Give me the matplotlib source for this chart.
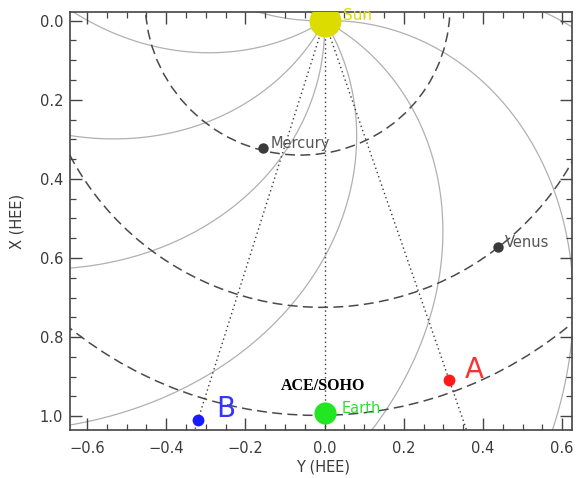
import numpy as np
import matplotlib
matplotlib.use("Agg")
import matplotlib.pyplot as plt
from matplotlib.patches import Ellipse
from matplotlib.ticker import MultipleLocator

# body positions in HEE (AU): Y across the plot, X toward Earth (down)
names = ["Sun", "Mercury", "Venus", "Earth", "A", "B"]
pos_y = [0.0, -0.155, 0.438, 0.0, 0.315, -0.320]
pos_x = [0.0, 0.322, 0.572, 0.992, 0.909, 1.010]

# planetary orbits: semi-major axis (AU), eccentricity, perihelion angle (deg, from +X toward +Y)
orbit_a = [0.387, 0.723, 1.000]
orbit_e = [0.2056, 0.0068, 0.0167]
orbit_peri = [59.0, 113.0, 84.0]

# Parker spirals: footpoint angles at the Sun (deg) and winding (rad per AU)
spiral_phi0 = [-118.5, -88.5, -58.5, -28.5, 1.5, 31.5, 61.5, 91.5, 121.5, 151.5, 181.5, 211.5]
spiral_wind = 0.92

# Sun-to-observer lines
line_targets = ["B", "Earth", "A"]

sty = {
    "Sun":     dict(c="#dcdc00", ms=23, tc="#dcdc00", fs=11, off=(13, 4)),
    "Mercury": dict(c="#3a3a3a", ms=7.5, tc="#555555", fs=10.5, off=(5, 3.5)),
    "Venus":   dict(c="#3a3a3a", ms=7.5, tc="#555555", fs=10.5, off=(5, 3.5)),
    "Earth":   dict(c="#22e622", ms=16, tc="#33dd33", fs=10.5, off=(12, 3.5)),
    "A":       dict(c="#ff1a1a", ms=8.5, tc="#ff3030", fs=20, off=(11, 7)),
    "B":       dict(c="#1a1aff", ms=8.5, tc="#3535ff", fs=20, off=(13, 8)),
}

fig = plt.figure(figsize=(5.77, 4.78), dpi=100)
ax = fig.add_axes([70 / 577, 1 - 430 / 478, 502 / 577, 418 / 478])
ax.set_xlim(-0.643, 0.625)
ax.set_ylim(1.035, -0.022)

# spirals
r = np.linspace(0, 1.6, 500)
for p0 in spiral_phi0:
    phi = np.radians(p0) - spiral_wind * r
    ax.plot(r * np.sin(phi), r * np.cos(phi), color="#b0b0b0", lw=0.9, zorder=1)

# orbits (Sun at one focus)
for a, e, tp in zip(orbit_a, orbit_e, orbit_peri):
    t = np.radians(tp)
    b = a * np.sqrt(1 - e ** 2)
    ell = Ellipse((-a * e * np.sin(t), -a * e * np.cos(t)), 2 * a, 2 * b, angle=90 - tp,
                  fill=False, ec="#4a4a4a", lw=1.1, ls=(0, (6.5, 3.5)), zorder=2)
    ax.add_patch(ell)

# dotted lines Sun -> observers
for nm in line_targets:
    i = names.index(nm)
    ang = np.arctan2(pos_y[i], pos_x[i])
    ax.plot([0, 1.2 * np.sin(ang)], [0, 1.2 * np.cos(ang)], color="#3a3a3a", lw=1.0,
            ls=(0, (1, 2.2)), zorder=3)

for i, nm in enumerate(names):
    s = sty[nm]
    ax.plot(pos_y[i], pos_x[i], "o", color=s["c"], ms=s["ms"], mec="none", zorder=5)
    ax.annotate(nm, (pos_y[i], pos_x[i]), xytext=s["off"], textcoords="offset points",
                color=s["tc"], fontsize=s["fs"], ha="left", va="center", zorder=6)

ax.text(-0.005, 0.925, "ACE/SOHO", family="Liberation Serif", weight="bold", fontsize=11.5,
        ha="center", va="center", color="black", zorder=6)

ax.xaxis.set_major_locator(MultipleLocator(0.2))
ax.xaxis.set_minor_locator(MultipleLocator(0.05))
ax.yaxis.set_major_locator(MultipleLocator(0.2))
ax.yaxis.set_minor_locator(MultipleLocator(0.05))
ax.tick_params(which="both", direction="in", top=True, right=True, color="#444444",
               labelcolor="#3a3a3a", labelsize=10.5)
ax.tick_params(which="major", length=8.5, width=1.0)
ax.tick_params(which="minor", length=4.5, width=0.9)
ax.tick_params(axis="x", pad=8)
ax.tick_params(axis="y", pad=5)
for sp in ax.spines.values():
    sp.set_color("#444444")
    sp.set_linewidth(1.2)

fig.text(323 / 577, 1 - 467 / 478, "Y (HEE)", ha="center", va="center", fontsize=10.5, color="#3a3a3a")
fig.text(17 / 577, 1 - 221 / 478, "X (HEE)", ha="center", va="center", fontsize=10.5,
         color="#3a3a3a", rotation=90)

fig.savefig("out.png", dpi=100)
